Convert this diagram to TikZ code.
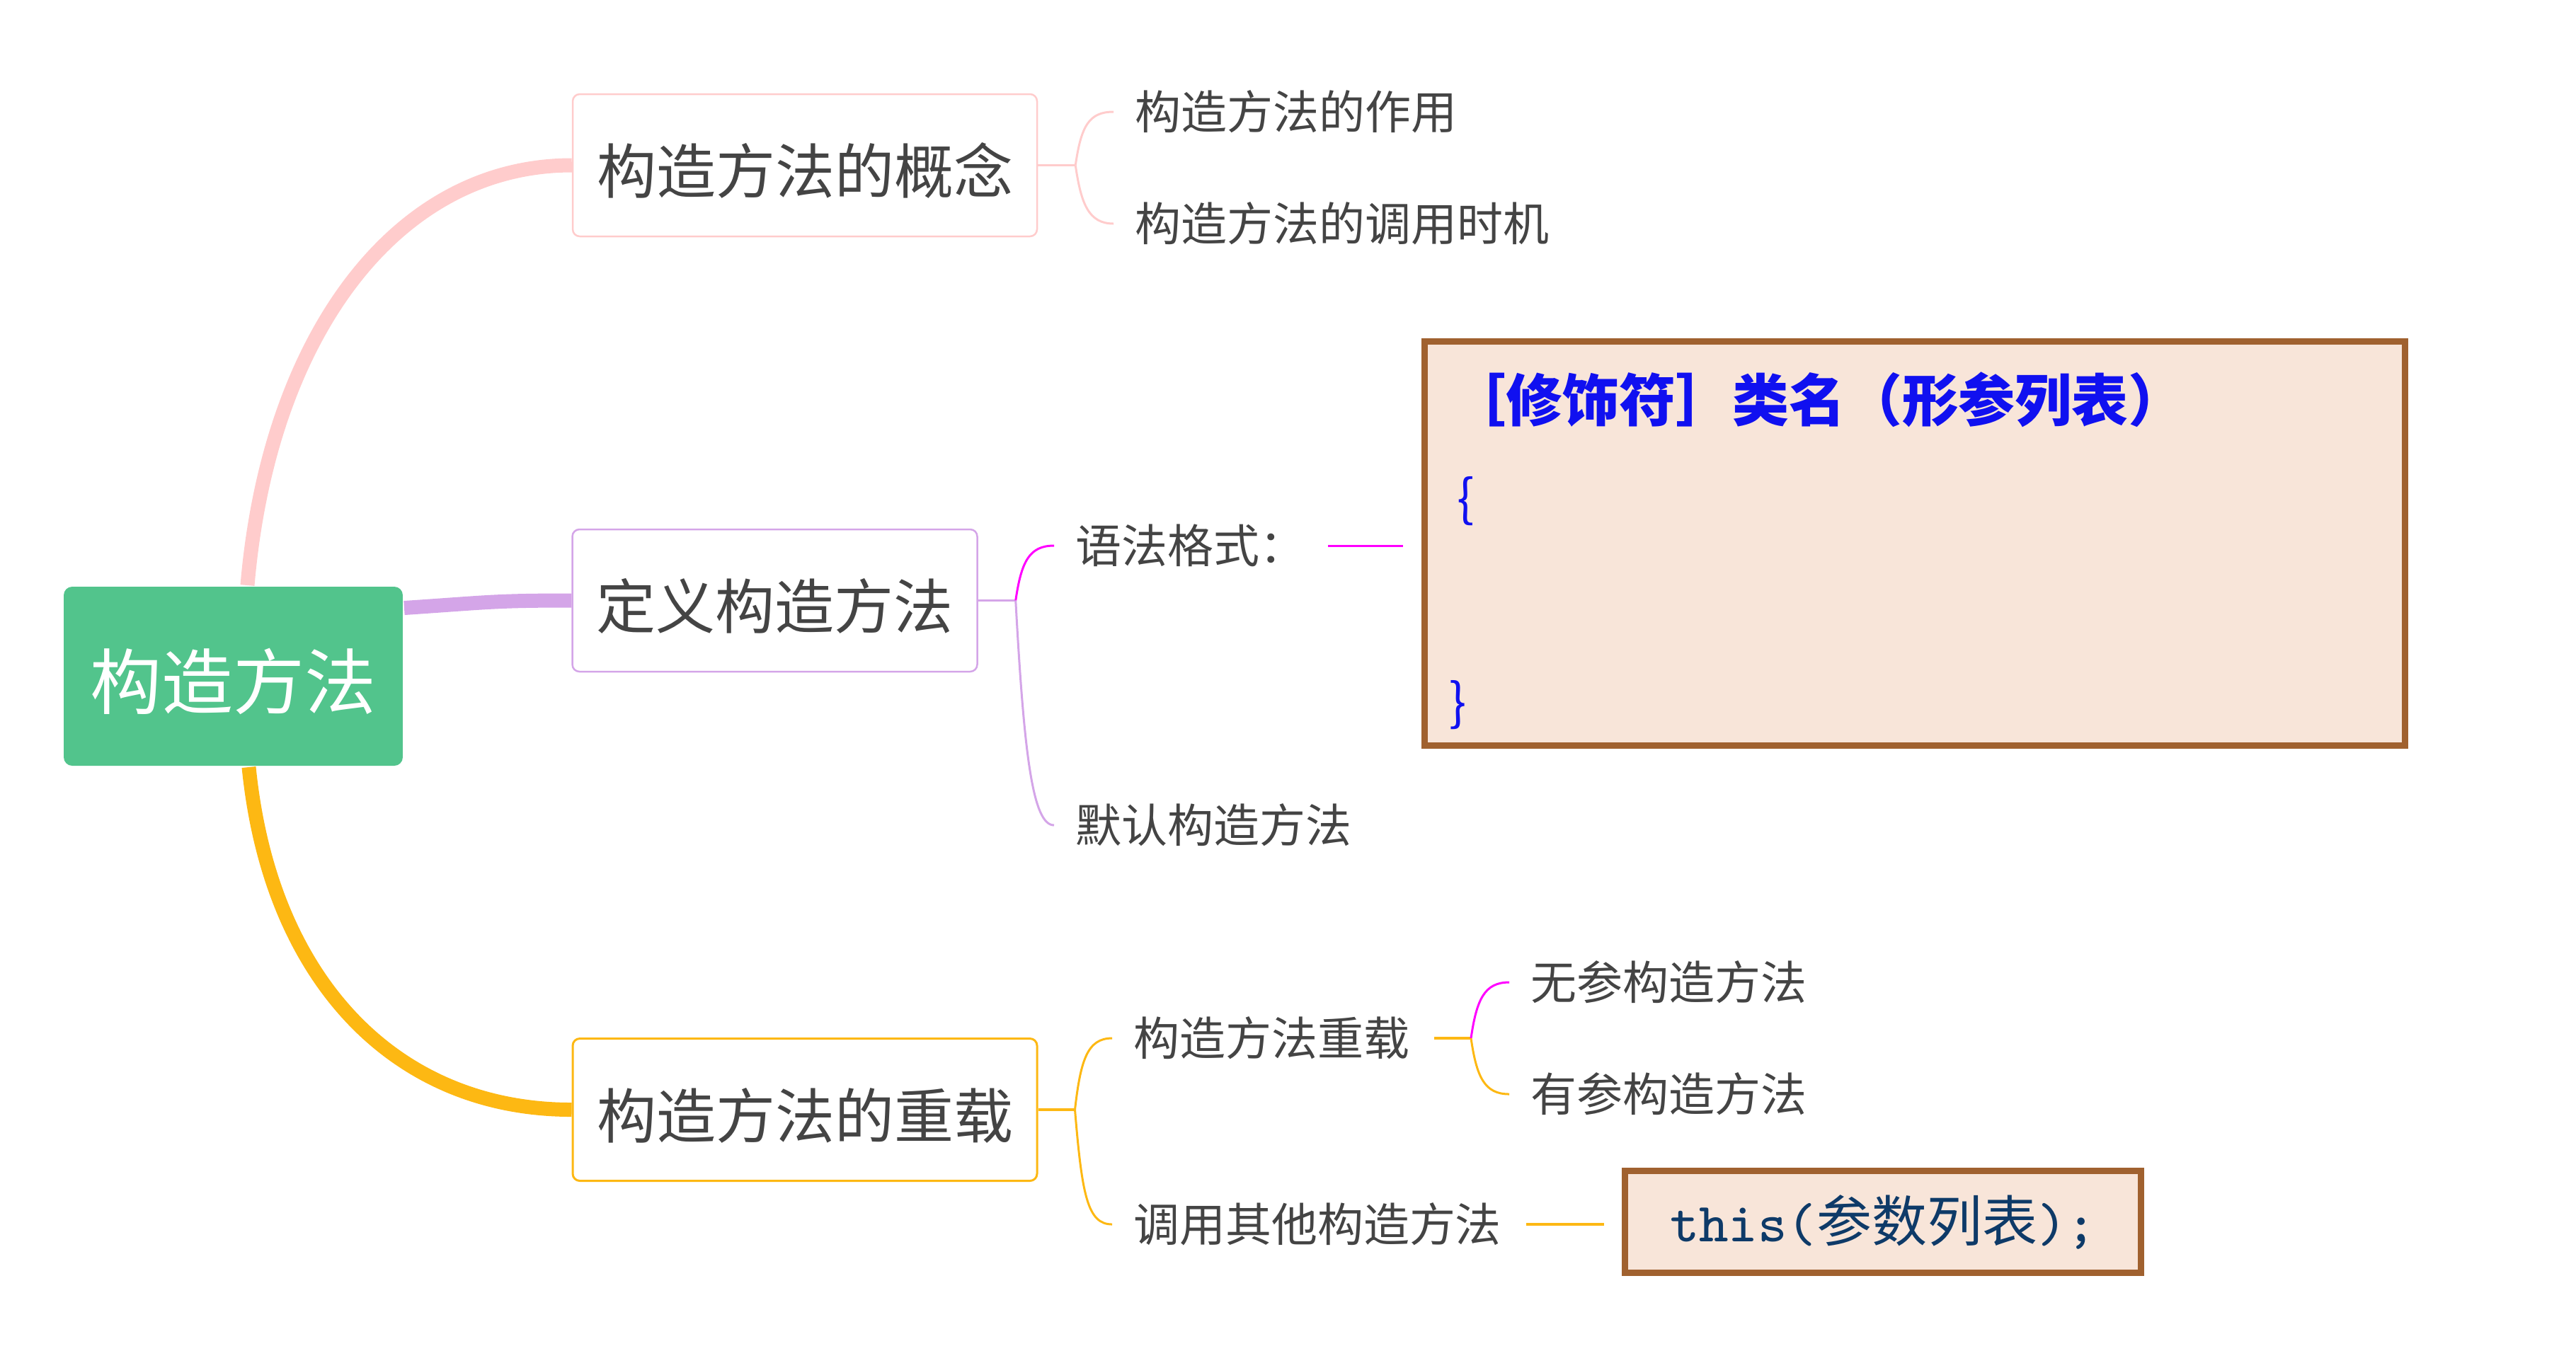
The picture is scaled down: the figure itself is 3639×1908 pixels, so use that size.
\documentclass[tikz,border=0pt]{standalone}
\usepackage{fontspec}
\setmainfont{Noto Sans CJK SC}
\usetikzlibrary{calc}
\definecolor{rootgreen}{HTML}{52C48C}
\definecolor{lpink}{HTML}{FFCCCC}
\definecolor{lpurple}{HTML}{D4A5E8}
\definecolor{lorange}{HTML}{FDB813}
\definecolor{mag}{HTML}{FF00FF}
\definecolor{brownb}{HTML}{A0612F}
\definecolor{peach}{HTML}{F8E5D9}
\definecolor{txtgray}{HTML}{444444}
\definecolor{codeblue}{HTML}{1010F0}
\definecolor{codenavy}{HTML}{0E3A68}
\tikzset{
  rootbox/.style={fill=rootgreen, rounded corners=1.2pt, minimum width=47.9pt, minimum height=25.3pt,
    text=white, font=\fontsize{10.1}{12}\selectfont, inner sep=0pt, text height=10.1pt, text depth=1.0pt},
  mainbox/.style={draw=#1, fill=white, line width=0.25pt, rounded corners=1pt, minimum height=20.1pt,
    text=txtgray, font=\fontsize{8.4}{10}\selectfont, inner xsep=3.4pt, inner ysep=0pt,
    text height=8.85pt, text depth=0.85pt},
  child/.style={anchor=west, text=txtgray, font=\fontsize{6.5}{8}\selectfont, inner xsep=2.8pt, inner ysep=0pt},
  codebox/.style={draw=brownb, fill=peach, line width=0.9pt, inner sep=0pt},
  thick line/.style={line width=2pt, line cap=butt},
  thin line/.style={line width=0.3pt},
  stub line/.style={line width=0.4pt}
}
\begin{document}
\begin{tikzpicture}[x=0.1pt, y=-0.1pt]
\useasboundingbox (0,0) rectangle (3639,1908);
% root and main branches
\node[rootbox] (root) at (329.5,955.5) {构造方法};
\node[mainbox=lpink, minimum width=65.4pt] (b1) at (1137,233.5) {构造方法的概念};
\node[mainbox=lpurple, minimum width=56.9pt] (b2) at (1094.5,848.5) {定义构造方法};
\node[mainbox=lorange, minimum width=65.4pt, line width=0.3pt] (b3) at (1137,1568) {构造方法的重载};
% children
\node[child] (c11) at (1573,158) {构造方法的作用};
\node[child] (c12) at (1573,316) {构造方法的调用时机};
\node[child] (c21) at (1489,771) {语法格式：};
\node[child] (c22) at (1489,1166) {默认构造方法};
\node[child] (c31) at (1571,1467) {构造方法重载};
\node[child] (c32) at (1571,1730) {调用其他构造方法};
\node[child] (c311) at (2132,1388) {无参构造方法};
\node[child] (c312) at (2132,1546) {有参构造方法};
% code boxes
\node[codebox, minimum width=138.5pt, minimum height=57.1pt] (cb1) at (2705,768) {};
\node[anchor=west, inner sep=0pt, text=codeblue, font=\fontsize{8.0}{9}\selectfont\bfseries] (cbt) at (2045,565) {［修饰符］类名（形参列表）};
\node[anchor=west, inner sep=0pt, text=codeblue, font=\fontsize{7.2}{9}\selectfont\rmfamily] (cbo) at (2056,708) {\{};
\node[anchor=west, inner sep=0pt, text=codeblue, font=\fontsize{7.2}{9}\selectfont\rmfamily] (cbc) at (2045,996) {\}};
\node[codebox, minimum width=72.9pt, minimum height=14.4pt, text=codenavy, font=\fontsize{7.8}{9}\selectfont] (cb2) at (2660,1726.5) {\texttt{this(}参数列表\texttt{);}};
% thick root connectors
\draw[thick line, lpink] ($(root.north)+(20,0)$) .. controls +(30,-350) and +(-250,0) .. (b1.west);
\draw[thick line, lpurple] ($(root.north east)+(0,32)$) .. controls +(120,-8) and +(-110,0) .. (b2.west);
\draw[thick line, lorange] ($(root.south)+(22,0)$) .. controls +(30,300) and +(-250,0) .. (b3.west);
% branch 1
\coordinate (j1) at ($(b1.east)+(53,0)$);
\draw[thin line, lpink] (b1.east) -- (j1);
\draw[thin line, lpink] (j1) .. controls +(8,-55) and +(-35,0) .. (c11.west);
\draw[thin line, lpink] (j1) .. controls +(8,55) and +(-35,0) .. (c12.west);
% branch 2
\coordinate (j2) at ($(b2.east)+(53,0)$);
\draw[thin line, lpurple] (b2.east) -- (j2);
\draw[thin line, mag] (j2) .. controls +(8,-55) and +(-35,0) .. (c21.west);
\draw[thin line, lpurple] (j2) .. controls +(12,220) and +(-30,0) .. (c22.west);
\draw[thin line, mag, shorten <=0.2pt, shorten >=2.6pt] (c21.east) -- (c21.east -| cb1.west);
% branch 3
\coordinate (j3) at ($(b3.east)+(52,0)$);
\draw[stub line, lorange] (b3.east) -- (j3);
\draw[thin line, lorange] (j3) .. controls +(8,-70) and +(-35,0) .. (c31.west);
\draw[thin line, lorange] (j3) .. controls +(10,120) and +(-35,0) .. (c32.west);
\coordinate (j4) at ($(c31.east)+(57,0)$);
\draw[stub line, lorange, shorten <=0.5pt] (c31.east) -- (j4);
\draw[thin line, mag] (j4) .. controls +(8,-55) and +(-35,0) .. (c311.west);
\draw[thin line, lorange] (j4) .. controls +(8,55) and +(-35,0) .. (c312.west);
\draw[stub line, lorange, shorten <=0.5pt, shorten >=2.5pt] (c32.east) -- (c32.east -| cb2.west);
\end{tikzpicture}
\end{document}
